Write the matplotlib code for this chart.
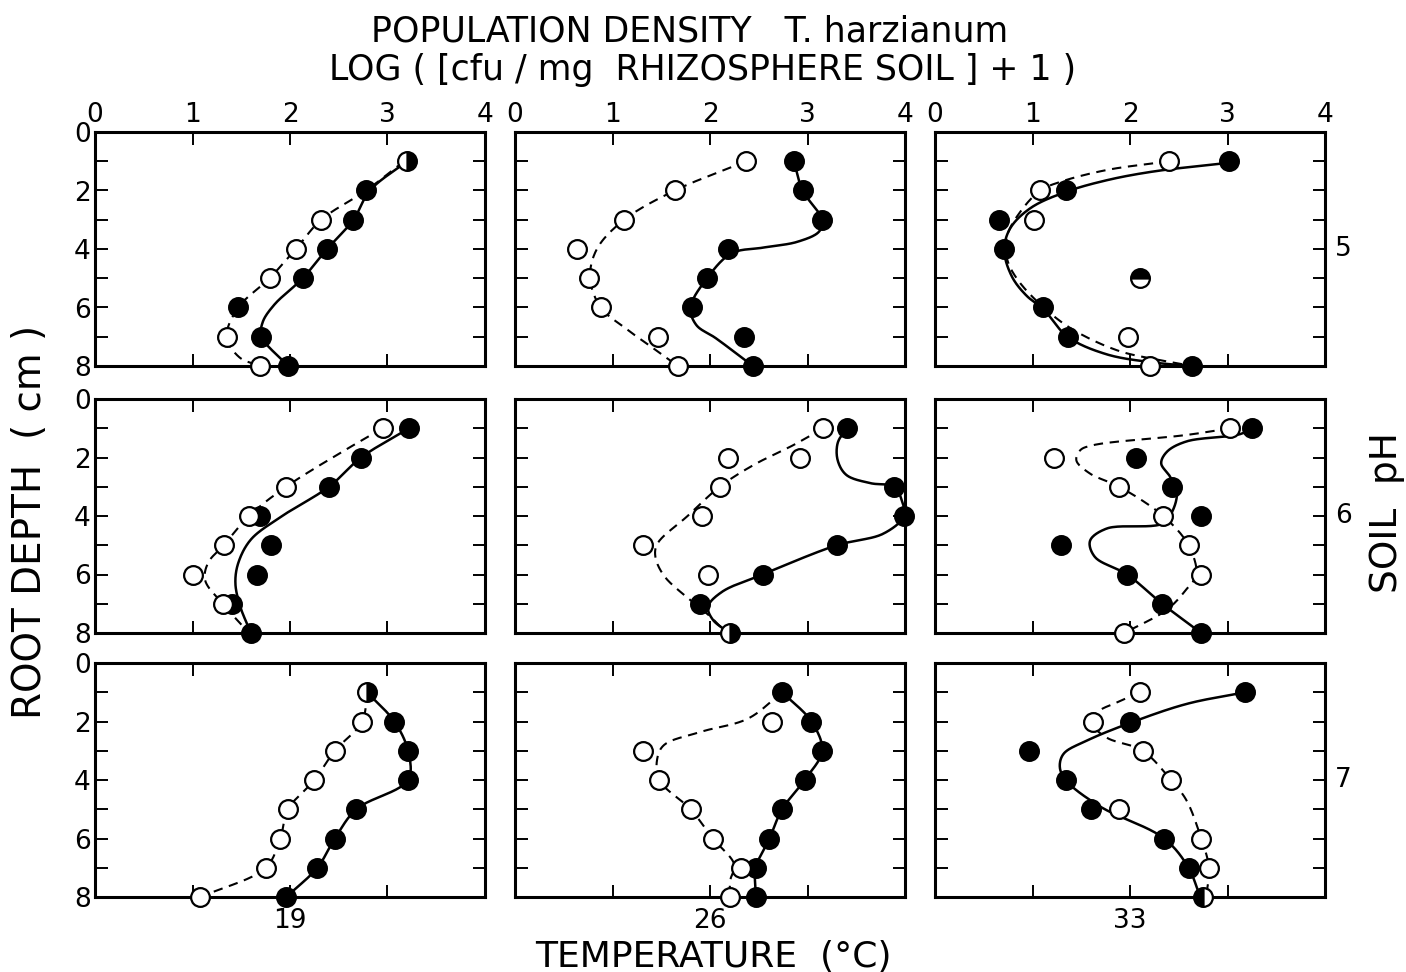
import numpy as np
import matplotlib
matplotlib.use("Agg")
import matplotlib.pyplot as plt
from matplotlib.transforms import blended_transform_factory

plt.rcParams['font.family'] = ['DejaVu Sans']

N = np.nan
depths = [1, 2, 3, 4, 5, 6, 7, 8]
ph_levels = ["5", "6", "7"]
temperatures = ["19", "26", "33"]

# ---- pH 5 ----
filled_5_19 = [N, 2.78, 2.65, 2.38, 2.13, 1.47, 1.70, 1.98]
open_5_19 = [N, N, 2.32, 2.06, 1.79, N, 1.35, 1.69]
half_5_19 = [(3.20, 1, 'right')]
solid_x_5_19 = [3.20, 2.82, 2.65, 2.38, 2.13, 1.84, 1.72, 1.71, 1.98]
solid_d_5_19 = [1, 2, 3, 4, 5, 5.9, 6.5, 7, 8]
dash_x_5_19 = [3.17, 2.78, 2.32, 2.06, 1.79, 1.47, 1.35, 1.48, 1.69]
dash_d_5_19 = [1, 2, 3, 4, 5, 6, 7, 7.7, 8]

filled_5_26 = [2.86, 2.95, 3.15, 2.18, 1.97, 1.82, 2.35, 2.44]
open_5_26 = [2.37, 1.64, 1.12, 0.64, 0.76, 0.88, 1.47, 1.67]
half_5_26 = []
solid_x_5_26 = [2.86, 2.95, 3.15, 3.12, 2.90, 2.55, 2.22, 1.97, 1.80, 1.86, 2.06, 2.44]
solid_d_5_26 = [1, 2, 3, 3.4, 3.75, 3.95, 4.15, 5, 6, 6.6, 7.05, 8]
dash_x_5_26 = [2.37, 1.64, 1.12, 0.84, 0.77, 0.88, 1.15, 1.40, 1.67]
dash_d_5_26 = [1, 2, 3, 4, 5, 6, 6.75, 7.35, 8]

filled_5_33 = [3.02, 1.34, 0.66, 0.71, N, 1.11, 1.36, 2.64]
open_5_33 = [2.40, 1.08, 1.02, N, N, N, 1.98, 2.21]
half_5_33 = [(2.10, 5, 'top')]
solid_x_5_33 = [3.02, 2.24, 1.76, 1.34, 0.98, 0.77, 0.71, 0.79, 0.94, 1.11, 1.36, 1.76, 2.24, 2.64]
solid_d_5_33 = [1.05, 1.35, 1.65, 2.05, 2.6, 3.3, 4.05, 4.95, 5.6, 6.05, 7.0, 7.6, 7.88, 8]
dash_x_5_33 = [2.40, 1.76, 1.29, 1.08, 0.87, 0.74, 0.74, 0.87, 1.22, 1.49, 1.90, 2.31, 2.59]
dash_d_5_33 = [1.0, 1.3, 1.7, 2.0, 2.75, 3.55, 4.35, 5.15, 6.3, 6.9, 7.5, 7.8, 7.97]

# ---- pH 6 ----
filled_6_19 = [3.22, 2.73, 2.40, 1.69, 1.80, 1.66, 1.41, 1.60]
open_6_19 = [2.95, N, 1.96, 1.58, 1.32, 1.01, 1.31, N]
half_6_19 = []
solid_x_6_19 = [3.22, 2.73, 2.40, 1.92, 1.60, 1.47, 1.44, 1.49, 1.60]
solid_d_6_19 = [1, 2, 3, 4, 4.8, 5.6, 6.3, 7.1, 8]
dash_x_6_19 = [2.95, 2.69, 1.96, 1.58, 1.32, 1.16, 1.13, 1.31, 1.58]
dash_d_6_19 = [1, 1.5, 3, 4, 5, 5.6, 6.2, 7, 8]

filled_6_26 = [3.40, N, 3.89, 3.99, 3.30, 2.54, 1.90, N]
open_6_26 = [3.16, 2.18, 2.10, 1.92, 1.31, 1.98, N, N]
extra_open_x_6_26 = [2.92]
extra_open_d_6_26 = [2]
half_6_26 = [(2.20, 8, 'right')]
solid_x_6_26 = [3.40, 3.31, 3.31, 3.40, 3.65, 3.89, 3.97, 3.99, 3.78, 3.30, 2.54, 2.12, 1.98, 2.03, 2.20]
solid_d_6_26 = [1, 1.5, 2.1, 2.6, 2.88, 3, 3.5, 4, 4.6, 5, 6, 6.6, 7.1, 7.55, 8]
dash_x_6_26 = [3.16, 2.87, 2.45, 2.10, 1.77, 1.46, 1.44, 1.53, 1.77, 1.99, 2.17]
dash_d_6_26 = [1, 1.55, 2.25, 3, 4, 4.95, 5.4, 6.05, 6.8, 7.4, 8]

filled_6_33 = [3.25, 2.06, 2.43, 2.73, 1.29, 1.97, 2.33, 2.73]
open_6_33 = [3.03, 1.22, 1.89, 2.34, 2.60, 2.73, N, 1.94]
half_6_33 = []
solid_x_6_33 = [3.25, 3.13, 2.58, 2.38, 2.32, 2.41, 2.48, 2.44, 2.34, 1.76, 1.59, 1.64, 1.97, 2.33, 2.73]
solid_d_6_33 = [1, 1.2, 1.45, 1.8, 2.2, 2.65, 3.2, 3.8, 4.25, 4.43, 4.85, 5.4, 6, 7, 8]
dash_x_6_33 = [3.03, 2.58, 1.62, 1.49, 1.45, 1.59, 1.89, 2.34, 2.60, 2.68, 2.58, 2.38, 1.94]
dash_d_6_33 = [1, 1.23, 1.58, 1.75, 2.1, 2.55, 3, 4, 5, 6, 6.5, 7.2, 8]

# ---- pH 7 ----
filled_7_19 = [N, 3.07, 3.21, 3.21, 2.68, 2.46, 2.28, 1.96]
open_7_19 = [N, 2.74, 2.46, 2.25, 1.98, 1.90, 1.75, 1.08]
half_7_19 = [(2.79, 1, 'right')]
solid_x_7_19 = [2.79, 3.07, 3.21, 3.21, 2.68, 2.46, 2.28, 1.96]
solid_d_7_19 = [1, 2, 3, 4, 5, 6, 7, 8]
dash_x_7_19 = [2.79, 2.74, 2.46, 2.25, 1.98, 1.90, 1.75, 1.08]
dash_d_7_19 = [1, 2, 3, 4, 5, 6, 7, 8]

filled_7_26 = [2.74, 3.04, 3.15, 2.97, 2.74, 2.61, 2.47, 2.47]
open_7_26 = [N, 2.64, 1.31, 1.48, 1.80, 2.03, 2.32, 2.20]
half_7_26 = []
solid_x_7_26 = [2.74, 3.04, 3.15, 2.97, 2.74, 2.61, 2.47, 2.47]
solid_d_7_26 = [1, 2, 3, 4, 5, 6, 7, 8]
dash_x_7_26 = [2.74, 2.39, 1.91, 1.53, 1.46, 1.48, 1.80, 2.03, 2.25, 2.21, 2.20]
dash_d_7_26 = [1, 1.9, 2.35, 2.8, 3.25, 4, 5, 6, 6.9, 7.4, 8]

filled_7_33 = [3.18, 2.00, 0.96, 1.34, 1.60, 2.35, 2.60, N]
open_7_33 = [2.10, 1.62, 2.13, 2.42, 1.89, 2.73, 2.81, N]
half_7_33 = [(2.75, 8, 'left')]
solid_x_7_33 = [3.18, 2.58, 2.00, 1.56, 1.32, 1.28, 1.34, 1.69, 2.35, 2.60, 2.72]
solid_d_7_33 = [1, 1.4, 2.05, 2.65, 3.1, 3.55, 4, 4.9, 6, 7, 8]
dash_x_7_33 = [2.10, 1.90, 1.66, 1.62, 1.76, 2.13, 2.42, 2.58, 2.73, 2.81, 2.78]
dash_d_7_33 = [1, 1.3, 1.7, 2.1, 2.55, 3, 4, 4.7, 6, 7, 8]

panels = [
    [(filled_5_19, open_5_19, half_5_19, solid_x_5_19, solid_d_5_19, dash_x_5_19, dash_d_5_19, None),
     (filled_5_26, open_5_26, half_5_26, solid_x_5_26, solid_d_5_26, dash_x_5_26, dash_d_5_26, None),
     (filled_5_33, open_5_33, half_5_33, solid_x_5_33, solid_d_5_33, dash_x_5_33, dash_d_5_33, None)],
    [(filled_6_19, open_6_19, half_6_19, solid_x_6_19, solid_d_6_19, dash_x_6_19, dash_d_6_19, None),
     (filled_6_26, open_6_26, half_6_26, solid_x_6_26, solid_d_6_26, dash_x_6_26, dash_d_6_26,
      (extra_open_x_6_26, extra_open_d_6_26)),
     (filled_6_33, open_6_33, half_6_33, solid_x_6_33, solid_d_6_33, dash_x_6_33, dash_d_6_33, None)],
    [(filled_7_19, open_7_19, half_7_19, solid_x_7_19, solid_d_7_19, dash_x_7_19, dash_d_7_19, None),
     (filled_7_26, open_7_26, half_7_26, solid_x_7_26, solid_d_7_26, dash_x_7_26, dash_d_7_26, None),
     (filled_7_33, open_7_33, half_7_33, solid_x_7_33, solid_d_7_33, dash_x_7_33, dash_d_7_33, None)],
]


def smooth(x, d, sx=97.0, sy=29.3, n=24):
    """Centripetal Catmull-Rom curve through the given knots (drawing only)."""
    P = np.column_stack([np.asarray(x, float) * sx, np.asarray(d, float) * sy])
    if len(P) < 3:
        return np.asarray(x), np.asarray(d)
    P = np.vstack([2 * P[0] - P[1], P, 2 * P[-1] - P[-2]])
    out = []
    for i in range(1, len(P) - 2):
        p0, p1, p2, p3 = P[i - 1], P[i], P[i + 1], P[i + 2]

        def tj(ti, pa, pb):
            return ti + max(np.linalg.norm(pb - pa), 1e-6) ** 0.5
        t0 = 0.0
        t1 = tj(t0, p0, p1)
        t2 = tj(t1, p1, p2)
        t3 = tj(t2, p2, p3)
        t = np.linspace(t1, t2, n)[:, None]
        A1 = (t1 - t) / (t1 - t0) * p0 + (t - t0) / (t1 - t0) * p1
        A2 = (t2 - t) / (t2 - t1) * p1 + (t - t1) / (t2 - t1) * p2
        A3 = (t3 - t) / (t3 - t2) * p2 + (t - t2) / (t3 - t2) * p3
        B1 = (t2 - t) / (t2 - t0) * A1 + (t - t0) / (t2 - t0) * A2
        B2 = (t3 - t) / (t3 - t1) * A2 + (t - t1) / (t3 - t1) * A3
        C = (t2 - t) / (t2 - t1) * B1 + (t - t1) / (t2 - t1) * B2
        out.append(C if i == 1 else C[1:])
    C = np.vstack(out)
    return C[:, 0] / sx, C[:, 1] / sy


W, H = 1406, 972
fig = plt.figure(figsize=(W / 100, H / 100), dpi=100)

col_left = [95, 515, 935]
row_top = [132, 399, 663]
aw, ah = 390, 234

MS = 13.5
MEW = 1.6
tick_fs = 19

for r in range(3):
    for c in range(3):
        filled, opn, half, sx_, sd_, dx_, dd_, extra = panels[r][c]
        ax = fig.add_axes([col_left[c] / W, 1 - (row_top[r] + ah) / H, aw / W, ah / H])
        ax.set_xlim(0, 4)
        ax.set_ylim(8, 0)
        for sp in ax.spines.values():
            sp.set_linewidth(2.2)
        ax.set_xticks([0, 1, 2, 3, 4])
        ax.set_yticks(range(9))
        ax.tick_params(axis='both', direction='in', length=9, width=1.4,
                       top=True, bottom=True, left=True, right=True,
                       labelsize=tick_fs)
        ax.tick_params(axis='x', labelbottom=False, labeltop=(r == 0), pad=3)
        ax.tick_params(axis='y', labelleft=(c == 0), labelright=False, pad=3)
        ax.set_xticklabels(['0', '1', '2', '3', '4'])
        ax.set_yticklabels(['0', '', '2', '', '4', '', '6', '', '8'])

        xs, ys = smooth(sx_, sd_)
        ax.plot(xs, ys, color='black', lw=1.8, zorder=2, clip_on=False)
        xs, ys = smooth(dx_, dd_)
        ax.plot(xs, ys, color='black', lw=1.5, ls=(0, (4.5, 3.2)), zorder=2, clip_on=False)

        ax.plot(filled, depths, 'o', ms=MS, mfc='black', mec='black', mew=MEW,
                zorder=3, clip_on=False)
        ax.plot(opn, depths, 'o', ms=MS, mfc='white', mec='black', mew=MEW,
                zorder=4, clip_on=False)
        if extra is not None:
            ax.plot(extra[0], extra[1], 'o', ms=MS, mfc='white', mec='black', mew=MEW,
                    zorder=4, clip_on=False)
        for hx, hd, fs in half:
            ax.plot([hx], [hd], 'o', ms=MS, fillstyle=fs, mfc='black',
                    markerfacecoloralt='white', mec='black', mew=MEW,
                    zorder=5, clip_on=False)

        if c == 2:
            tr = blended_transform_factory(ax.transAxes, ax.transData)
            ax.text(1.025, 4, ph_levels[r], transform=tr, ha='left', va='center',
                    fontsize=tick_fs)
        if r == 2:
            tr = blended_transform_factory(ax.transData, ax.transAxes)
            ax.text(2, -0.045, temperatures[c], transform=tr, ha='center', va='top',
                    fontsize=tick_fs)

fig.text(690 / W, 1 - 32 / H, "POPULATION DENSITY   T. harzianum", ha='center', va='center',
         fontsize=25)
fig.text(703 / W, 1 - 70 / H, "LOG ( [cfu / mg  RHIZOSPHERE SOIL ] + 1 )", ha='center',
         va='center', fontsize=25)
fig.text(30 / W, 1 - 522 / H, "ROOT DEPTH  ( cm )", rotation=90, ha='center', va='center',
         fontsize=28)
fig.text(1387 / W, 1 - 513 / H, "SOIL  pH", rotation=90, ha='center', va='center',
         fontsize=27)
fig.text(713 / W, 1 - 957 / H, "TEMPERATURE  (°C)", ha='center', va='center', fontsize=26)

fig.savefig("out.png", dpi=100)
